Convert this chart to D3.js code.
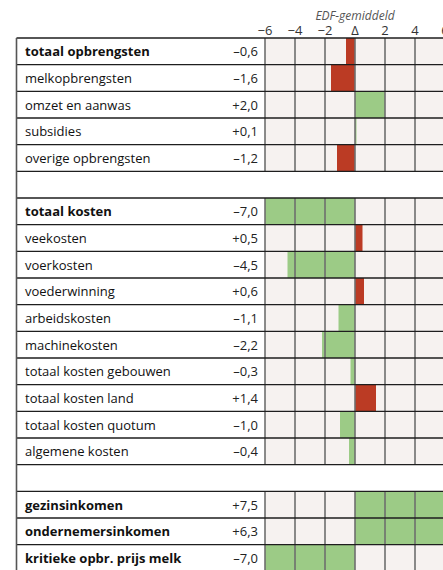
<!DOCTYPE html>
<html>
<head>
<meta charset="utf-8">
<script src="https://d3js.org/d3.v7.min.js"></script>
<style>
  body { margin: 0px; background: #fff; }
  .lbl { font: 13px "Open Sans", sans-serif; fill: #111; }
  .lbl.bold { font-weight: 700; }
  .val { font: 13px "Open Sans", sans-serif; fill: #222; text-anchor: end; }
  .tick { font: 13px "Open Sans", sans-serif; fill: #333; text-anchor: middle; }
  .title { font: italic 12px "Open Sans", sans-serif; fill: #555; text-anchor: middle; }
</style>
</head>
<body>
<svg id="chart" width="443" height="570"></svg>
<script>
// rows of the table, "" = empty spacer row
var labels = ["totaal opbrengsten", "melkopbrengsten", "omzet en aanwas", "subsidies", "overige opbrengsten",
  "",
  "totaal kosten", "veekosten", "voerkosten", "voederwinning", "arbeidskosten", "machinekosten",
  "totaal kosten gebouwen", "totaal kosten land", "totaal kosten quotum", "algemene kosten",
  "",
  "gezinsinkomen", "ondernemersinkomen", "kritieke opbr. prijs melk"];
var values = [-0.6, -1.6, 2.0, 0.1, -1.2,
  null,
  -7.0, 0.5, -4.5, 0.6, -1.1, -2.2, -0.3, 1.4, -1.0, -0.4,
  null,
  7.5, 6.3, -7.0];
// 1 = higher is better, -1 = lower is better
var polarity = [1, 1, 1, 1, 1, 0, -1, -1, -1, -1, -1, -1, -1, -1, -1, -1, 0, 1, 1, -1];
var bold = [1, 0, 0, 0, 0, 0, 1, 0, 0, 0, 0, 0, 0, 0, 0, 0, 0, 1, 1, 1];
var ticks = [-6, -4, -2, 0, 2, 4, 6];
var tickLabels = ["\u22126", "\u22124", "\u22122", "\u0394", "2", "4", "6"];

var svg = d3.select("#chart"),
    left = 16.5,
    tableTop = 38,
    rowH = 80 / 3,
    width = +svg.attr("width");

var x = d3.scaleLinear().domain([-6, 6]).range([265, 445]).clamp(true);
var y = d3.scaleBand().domain(d3.range(labels.length)).range([tableTop, tableTop + rowH * labels.length]);

function fmt(v) {
  var s = Math.abs(v).toFixed(1).replace(".", ",");
  return (v < 0 ? "\u2013" : "+") + s;
}

var rows = svg.append("g").selectAll("g")
  .data(labels.map(function(d, i) { return {label: d, value: values[i], pol: polarity[i], bold: bold[i], i: i}; }))
  .enter().append("g")
    .attr("transform", function(d) { return "translate(0," + y(d.i) + ")"; });

// cell background
rows.filter(function(d) { return d.value !== null; })
  .append("rect")
    .attr("x", x(-6)).attr("width", width - x(-6))
    .attr("height", y.bandwidth())
    .attr("fill", "#f6f2f0");

// bars
rows.filter(function(d) { return d.value !== null; })
  .append("rect")
    .attr("x", function(d) { return Math.min(x(0), x(d.value)); })
    .attr("width", function(d) { return Math.abs(x(d.value) - x(0)); })
    .attr("height", y.bandwidth())
    .attr("fill", function(d) { return d.value * d.pol >= 0 ? "#9ccb86" : "#bb3b24"; });

// vertical grid lines
rows.filter(function(d) { return d.value !== null; })
  .selectAll("line.grid")
  .data(ticks)
  .enter().append("line")
    .attr("x1", function(t) { return x(t); }).attr("x2", function(t) { return x(t); })
    .attr("y1", 0).attr("y2", y.bandwidth())
    .attr("stroke", "#6e6e6e").attr("stroke-width", 1.6);

rows.append("text")
  .attr("class", function(d) { return d.bold ? "lbl bold" : "lbl"; })
  .attr("x", 25).attr("y", y.bandwidth() / 2 + 5)
  .text(function(d) { return d.label; });

rows.filter(function(d) { return d.value !== null; })
  .append("text")
    .attr("class", "val")
    .attr("x", 258).attr("y", y.bandwidth() / 2 + 5)
    .text(function(d) { return fmt(d.value); });

// horizontal row lines
svg.append("g").selectAll("line")
  .data(d3.range(labels.length + 1))
  .enter().append("line")
    .attr("x1", left).attr("x2", width)
    .attr("y1", function(i) { return tableTop + i * rowH; })
    .attr("y2", function(i) { return tableTop + i * rowH; })
    .attr("stroke", "#1e1e1e").attr("stroke-width", 1.3);

// left border
svg.append("line")
  .attr("x1", left).attr("x2", left)
  .attr("y1", tableTop).attr("y2", tableTop + rowH * labels.length)
  .attr("stroke", "#555").attr("stroke-width", 1.6);

// axis on top
svg.append("g").selectAll("text")
  .data(ticks)
  .enter().append("text")
    .attr("class", "tick")
    .attr("x", function(t) { return x(t); })
    .attr("y", 35)
    .text(function(t, i) { return tickLabels[i]; });

svg.append("text")
  .attr("class", "title")
  .attr("x", x(0)).attr("y", 20)
  .text("EDF-gemiddeld");
</script>
</body>
</html>
